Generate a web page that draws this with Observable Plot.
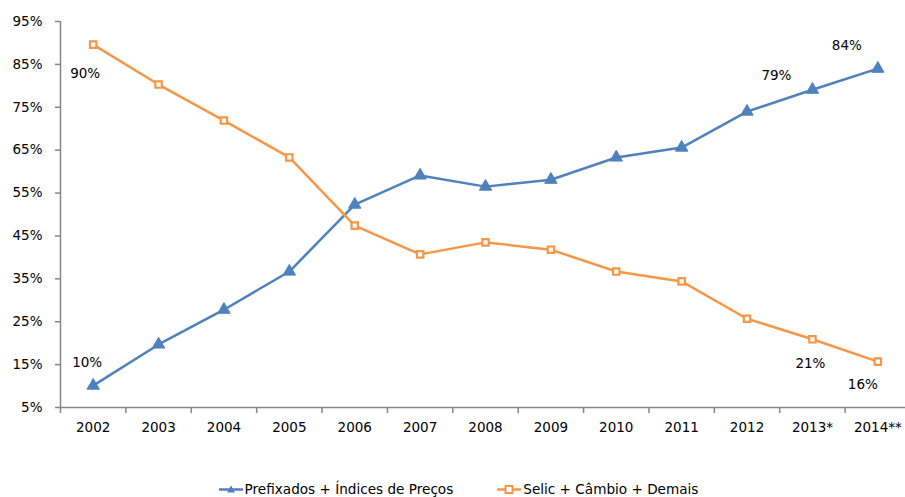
<!DOCTYPE html>
<html><head><meta charset="utf-8">
<script src="https://cdn.jsdelivr.net/npm/d3@7"></script>
<script src="https://cdn.jsdelivr.net/npm/@observablehq/plot@0.6"></script>
<style>
body{margin:0;background:#fff;font-family:"DejaVu Sans",Verdana,sans-serif;}
#legend{display:flex;justify-content:center;gap:44px;font-size:13.6px;color:#000;margin-top:19px;margin-left:12px}
#legend span{display:flex;align-items:center;gap:2px}
</style></head>
<body><div id="chart"></div><div id="legend"></div>
<script>
const years = ["2002","2003","2004","2005","2006","2007","2008","2009","2010","2011","2012","2013*","2014**"];
const prefixados = [10.1,19.7,27.8,36.7,52.3,59.1,56.5,58.1,63.3,65.6,74.0,79.1,84.0];
const selic = [89.6,80.3,71.9,63.3,47.4,40.7,43.5,41.8,36.7,34.4,25.7,20.9,15.7];
const yTicks = [5,15,25,35,45,55,65,75,85,95];
const seriesNames = ["Prefixados + Índices de Preços","Selic + Câmbio + Demais"];
const colors = ["#4F81BD","#F79646"];

const blue = years.map((y,i)=>({i, year:y, v:prefixados[i]}));
const orange = years.map((y,i)=>({i, year:y, v:selic[i]}));
const idx = years.map((y,i)=>i);
const edges = years.map((y,i)=>i-0.5).concat([years.length-0.5]);
const pct = d => `${Math.round(d.v)}%`;
const fs = 13.5;

const chart = Plot.plot({
  width: 905, height: 462,
  marginLeft: 60, marginRight: 0, marginTop: 21, marginBottom: 55,
  style:{fontFamily:'"DejaVu Sans",Verdana,sans-serif', fontSize:"13.5px", color:"#000", overflow:"visible"},
  x:{type:"linear", domain:[-0.5, years.length-0.5], range:[60,910]},
  y:{domain:[5,95]},
  marks:[
    Plot.axisY({ticks:yTicks, tickFormat:d=>`${d}%`, tickSize:5, tickPadding:13, stroke:"#868686", strokeWidth:1.5, fill:"#000", fontSize:fs, label:null}),
    Plot.axisX({ticks:edges, tickFormat:()=>"", tickSize:6, stroke:"#868686", strokeWidth:1.5, label:null}),
    Plot.axisX({ticks:idx, tickFormat:i=>years[i], tickSize:0, tickPadding:15, fill:"#000", fontSize:fs, label:null}),
    Plot.ruleX([-0.5],{stroke:"#868686", strokeWidth:1.5}),
    Plot.ruleY([5],{stroke:"#868686", strokeWidth:1.5}),
    // lines
    Plot.line(blue,{x:"i", y:"v", stroke:colors[0], strokeWidth:2.5}),
    Plot.line(orange,{x:"i", y:"v", stroke:colors[1], strokeWidth:2.5}),
    Plot.dot(blue,{x:"i", y:"v", symbol:"triangle", fill:colors[0], stroke:colors[0], strokeWidth:1, r:4.6}),
    Plot.dot(orange,{x:"i", y:"v", symbol:"square", fill:"#fff", stroke:colors[1], strokeWidth:2.2, r:3.6}),
    // labels
    Plot.text([blue[0]],{x:"i", y:"v", text:pct, dx:-6, dy:-23, fill:"#000", fontSize:fs}),
    Plot.text([blue[11]],{x:"i", y:"v", text:pct, dx:-36, dy:-14, fill:"#000", fontSize:fs}),
    Plot.text([blue[12]],{x:"i", y:"v", text:pct, dx:-31, dy:-23, fill:"#000", fontSize:fs}),
    Plot.text([orange[0]],{x:"i", y:"v", text:pct, dx:-8, dy:29, fill:"#000", fontSize:fs}),
    Plot.text([orange[11]],{x:"i", y:"v", text:pct, dx:-2, dy:24, fill:"#000", fontSize:fs}),
    Plot.text([orange[12]],{x:"i", y:"v", text:pct, dx:-15, dy:23, fill:"#000", fontSize:fs})
  ]
});
document.getElementById("chart").appendChild(chart);

const leg = document.getElementById("legend");
seriesNames.forEach((n,k)=>{
  const sp = document.createElement("span");
  const sym = k===0
    ? `<polygon points="12,1.5 16,8.5 8,8.5" fill="${colors[0]}"/>`
    : `<rect x="8.5" y="2" width="7" height="7" fill="#fff" stroke="${colors[1]}" stroke-width="2"/>`;
  sp.innerHTML = `<svg width="24" height="11"><line x1="0" x2="24" y1="5.5" y2="5.5" stroke="${colors[k]}" stroke-width="2.5"/>${sym}</svg>${n}`;
  leg.appendChild(sp);
});
</script></body></html>
